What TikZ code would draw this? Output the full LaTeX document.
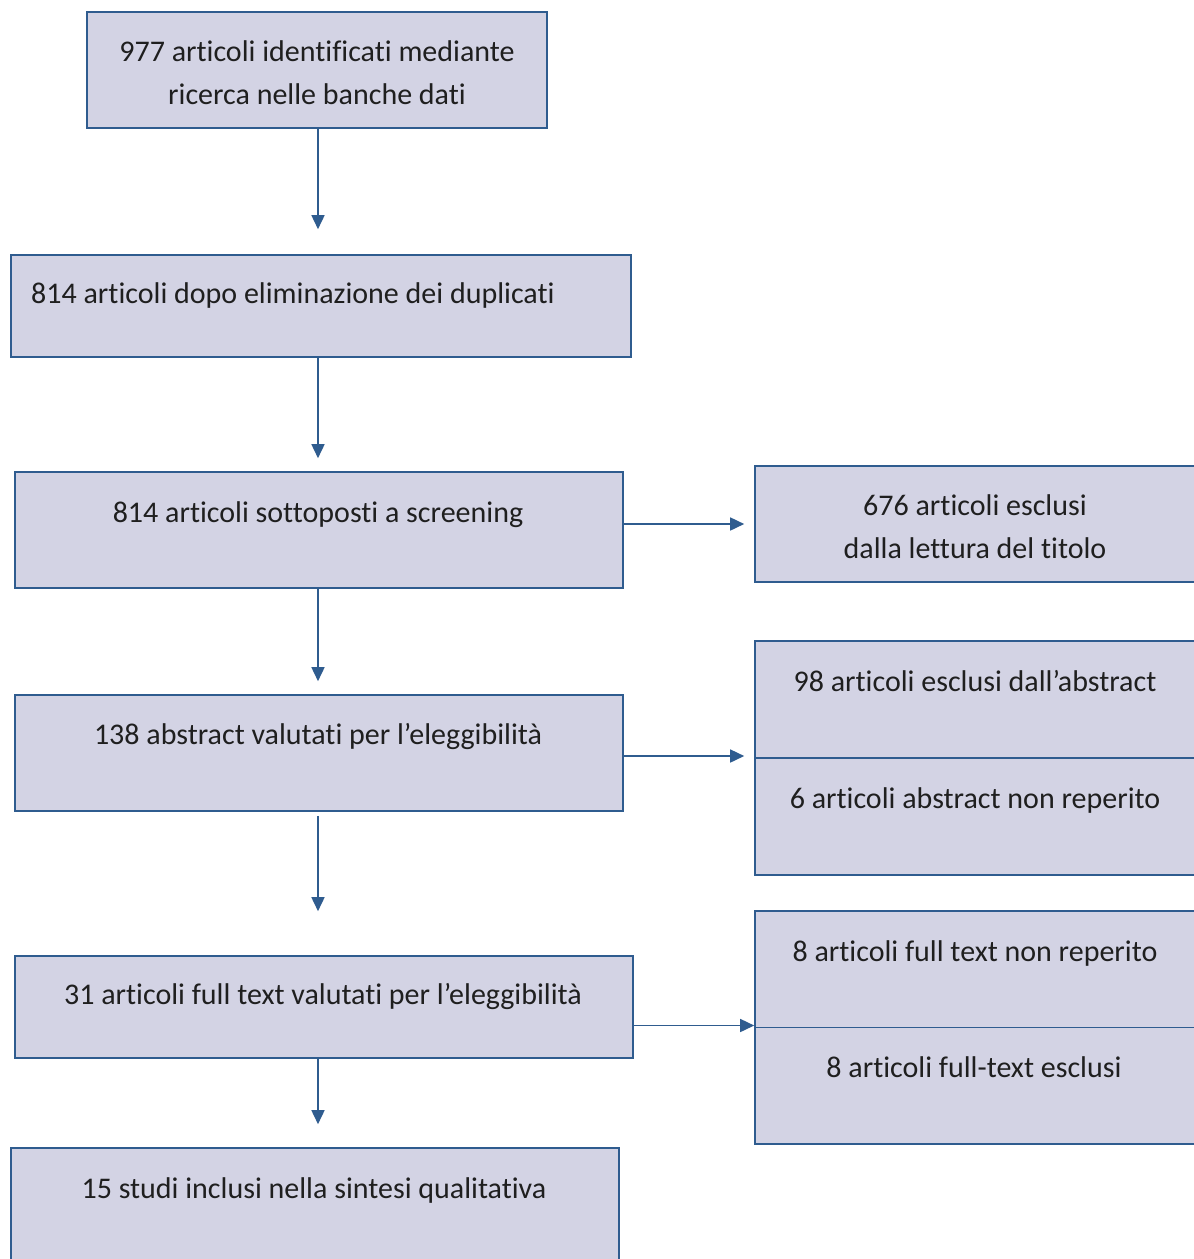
\documentclass[tikz,border=0pt]{standalone}
\usepackage{fontspec}
\setmainfont{Carlito}[Ligatures=NoCommon]
\usetikzlibrary{arrows.meta}
\definecolor{boxfill}{HTML}{D3D3E4}
\definecolor{boxline}{HTML}{2F5C8F}
\begin{document}
\begin{tikzpicture}[x=1pt,y=-1pt,
  box/.style={draw=boxline, fill=boxfill, line width=1.6pt, inner sep=0pt},
  txt/.style={font=\fontsize{30}{36}\selectfont, text=black!88, anchor=mid, inner sep=0pt, yshift=-7pt},
  arr/.style={draw=boxline, line width=1.6pt, -{Triangle[length=14pt,width=13pt]}}]
\clip (0,0) rectangle (1194,1259);
% boxes
\node[box, minimum width=460pt, minimum height=116pt] (A) at (317,70) {};
\node[box, minimum width=620pt, minimum height=102pt] (B) at (321,306) {};
\node[box, minimum width=608pt, minimum height=116pt] (C) at (319,530) {};
\node[box, minimum width=445pt, minimum height=116pt] (D) at (977.5,524) {};
\node[box, minimum width=608pt, minimum height=116pt] (E) at (319,753) {};
\node[box, minimum width=445pt, minimum height=234pt] (F) at (977.5,758) {};
\node[box, minimum width=618pt, minimum height=102pt] (G) at (324,1007) {};
\node[box, minimum width=445pt, minimum height=233pt] (H) at (977.5,1027.5) {};
\node[box, minimum width=608pt, minimum height=122pt] (I) at (315,1209) {};
\draw[boxline, line width=1.6pt] (F.west) -- (F.east);
\draw[boxline, line width=1.6pt] (H.west) -- (H.east);
% texts
\node[txt] (tA1) at (317,52) {977 articoli identificati mediante};
\node[txt] (tA2) at (317,95) {ricerca nelle banche dati};
\node[txt, anchor=mid west] (tB) at (31,294) {814 articoli dopo eliminazione dei duplicati};
\node[txt] (tC) at (318,513) {814 articoli sottoposti a screening};
\node[txt] (tD1) at (975,506) {676 articoli esclusi};
\node[txt] (tD2) at (975,549) {dalla lettura del titolo};
\node[txt] (tE) at (318,735) {138 abstract valutati per l’eleggibilità};
\node[txt] (tF1) at (975,682) {98 articoli esclusi dall’abstract};
\node[txt] (tF2) at (975,799) {6 articoli abstract non reperito};
\node[txt] (tG) at (323,995) {31 articoli full text valutati per l’eleggibilità};
\node[txt] (tH1) at (975,952) {8 articoli full text non reperito};
\node[txt] (tH2) at (974,1068) {8 articoli full-text esclusi};
\node[txt] (tI) at (314,1189) {15 studi inclusi nella sintesi qualitativa};
% arrows
\coordinate (axis) at (318,0);
\draw[arr, shorten >=25pt] (A.south -| axis) -- (axis |- B.north);
\draw[arr, shorten >=13pt] (B.south -| axis) -- (axis |- C.north);
\draw[arr, shorten >=13pt] (C.south -| axis) -- (axis |- E.north);
\draw[arr, shorten <=4pt, shorten >=44pt] (E.south -| axis) -- (axis |- G.north);
\draw[arr, shorten >=23pt] (G.south -| axis) -- (axis |- I.north);
\draw[arr, shorten >=10pt] (C.east |- D.west) -- (D.west);
\draw[arr, shorten >=10pt] ([yshift=-3pt]E.east) -- ([yshift=-3pt]E.east -| F.west);
\draw[arr] ([yshift=2pt]G.east |- H.west) -- ([yshift=2pt]H.west);
\end{tikzpicture}
\end{document}
